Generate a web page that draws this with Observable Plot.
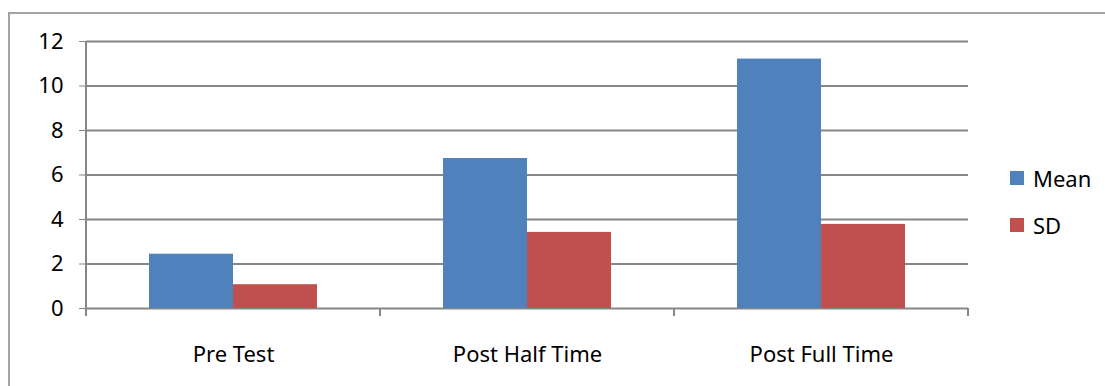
<!DOCTYPE html>
<html>
<head>
<meta charset="utf-8">
<script src="https://cdn.jsdelivr.net/npm/d3@7"></script>
<script src="https://cdn.jsdelivr.net/npm/@observablehq/plot@0.6"></script>
<style>
  html, body { margin: 0; padding: 0; background: #fff; }
  #wrap { position: relative; width: 1105px; height: 386px; overflow: hidden; background: #fff; }
  #border { position: absolute; left: 8px; top: 12px; width: 1110px; height: 400px;
            border: 2px solid #a3a3a3; box-sizing: border-box; pointer-events: none; }
  #chart { position: absolute; left: 0; top: 0; }
  #chart svg line, #chart svg path { stroke: #868686; }
  #chart svg text { fill: #000; }
  .legend { position: absolute; left: 1010px; font: 22px "Noto Sans", sans-serif; color: #000; }
  .legend .item { position: absolute; left: 0; display: flex; align-items: center; white-space: nowrap; }
  .legend .sw { width: 14px; height: 14px; margin-right: 9px; }
</style>
</head>
<body>
<div id="wrap">
  <div id="chart"></div>
  <div id="border"></div>
  <div class="legend" id="legend"></div>
</div>
<script>
// Test scores: mean and standard deviation at each stage
const categories = ["Pre Test", "Post Half Time", "Post Full Time"];
const seriesNames = ["Mean", "SD"];
const meanValues = [2.44, 6.74, 11.21];
const sdValues = [1.07, 3.42, 3.78];
const yTicks = [0, 2, 4, 6, 8, 10, 12];
const seriesColors = ["#4f81bd", "#c0504d"];

const rows = categories.flatMap((c, i) => [
  {category: c, series: "Mean", value: meanValues[i]},
  {category: c, series: "SD", value: sdValues[i]}
]);

const chart = Plot.plot({
  width: 1105,
  height: 386,
  marginLeft: 86,
  marginRight: 137,
  marginTop: 41,
  marginBottom: 78,
  style: {fontFamily: "'Noto Sans', sans-serif", fontSize: "22px", background: "transparent", overflow: "visible"},
  fx: {domain: categories, padding: 0, label: null, tickSize: 0, tickPadding: 38},
  x: {domain: seriesNames, paddingInner: 0, paddingOuter: 0.75, axis: null},
  y: {domain: [0, 12], ticks: yTicks, tickSize: 7, tickPadding: 16, label: null},
  color: {domain: seriesNames, range: seriesColors},
  marks: [
    Plot.ruleY(yTicks, {stroke: "#868686", strokeWidth: 2}),
    Plot.barY(rows, {fx: "category", x: "series", y: "value", fill: "series"})
  ]
});

// vertical value axis line and category boundary ticks
const fx = chart.scale("fx");
const y = chart.scale("y");
const svg = d3.select(chart);
const left = fx.apply(categories[0]);
const bounds = categories.map(c => fx.apply(c)).concat([fx.apply(categories[categories.length - 1]) + fx.bandwidth]);
svg.append("line")
  .attr("x1", left).attr("x2", left)
  .attr("y1", y.apply(12)).attr("y2", y.apply(0))
  .attr("stroke", "#868686").attr("stroke-width", 2);
svg.append("g").selectAll("line").data(bounds).join("line")
  .attr("x1", d => d).attr("x2", d => d)
  .attr("y1", y.apply(0)).attr("y2", y.apply(0) + 8)
  .attr("stroke", "#868686").attr("stroke-width", 2);

document.getElementById("chart").append(chart);

// legend
const legend = document.getElementById("legend");
const legendTops = [163, 210];
seriesNames.forEach((name, i) => {
  const item = document.createElement("div");
  item.className = "item";
  item.style.top = legendTops[i] + "px";
  const sw = document.createElement("span");
  sw.className = "sw";
  sw.style.background = seriesColors[i];
  const label = document.createElement("span");
  label.textContent = name;
  item.append(sw, label);
  legend.append(item);
});
</script>
</body>
</html>
